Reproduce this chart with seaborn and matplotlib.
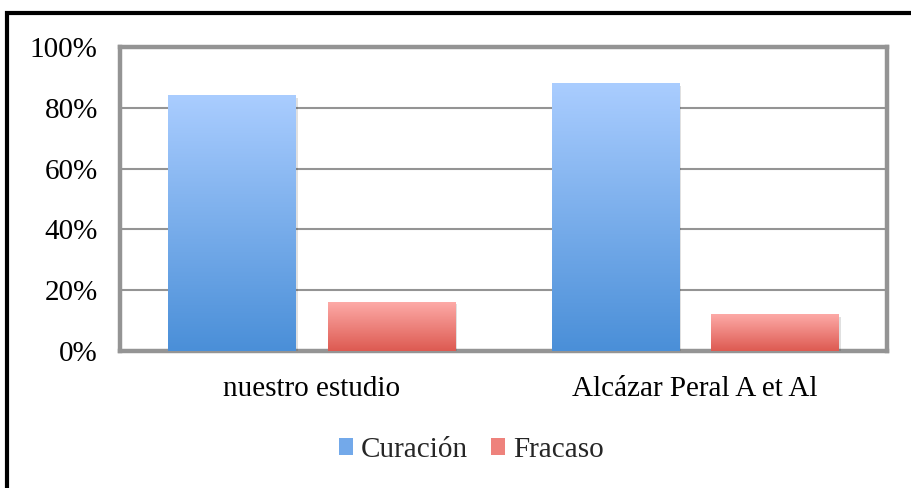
import numpy as np
import pandas as pd
import matplotlib
matplotlib.use("Agg")
import matplotlib.pyplot as plt
import matplotlib.patheffects as pe
from matplotlib.patches import Rectangle
from matplotlib.ticker import FuncFormatter
from matplotlib.colors import LinearSegmentedColormap
import seaborn as sns

categories = ["nuestro estudio", "Alcázar Peral A et Al"]
series = ["Curación", "Fracaso"]
curacion = [84, 88]
fracaso = [16, 12]
yticks = [0, 20, 40, 60, 80, 100]

df = pd.DataFrame({
    "estudio": categories * 2,
    "serie": [series[0]] * 2 + [series[1]] * 2,
    "valor": curacion + fracaso,
})

sns.set_style("white")
plt.rcParams["font.family"] = ["Liberation Serif", "DejaVu Serif"]

W, H = 911, 488
fig = plt.figure(figsize=(W / 100, H / 100), dpi=100)
ax = fig.add_axes([120 / W, 1 - 351 / H, 767 / W, 304 / H])

mid_cols = {"Curación": "#73A9EA", "Fracaso": "#EE827C"}
grads = {"Curación": ("#AACDFF", "#4A8FD8"), "Fracaso": ("#FDAAA7", "#DD5A51")}

sns.barplot(data=df, x="estudio", y="valor", hue="serie", order=categories,
            hue_order=series, palette=mid_cols, width=0.832, gap=0.2,
            ax=ax, legend=False, zorder=3)

ax.set_ylim(0, 100)
ax.set_xlim(-0.5, 1.5)
ax.set_yticks(yticks)
ax.yaxis.set_major_formatter(FuncFormatter(lambda v, p: f"{v:.0f}%"))
ax.set_xlabel("")
ax.set_ylabel("")
gray = "#949494"
for s in ax.spines.values():
    s.set_color(gray)
    s.set_linewidth(3.2)
    s.set_visible(True)
ax.grid(axis="y", color=gray, linewidth=1.5, zorder=0)
ax.set_axisbelow(True)
ax.tick_params(axis="both", length=0, labelsize=21, colors="black")
ax.tick_params(axis="y", pad=16)
ax.tick_params(axis="x", pad=18)

# gradient fills clipped to each bar
bars = [p for p in ax.patches if isinstance(p, Rectangle) and p.get_height() > 0]
for p in bars:
    fc = p.get_facecolor()
    key = "Curación" if fc[2] > fc[0] else "Fracaso"
    top, bot = grads[key]
    cmap = LinearSegmentedColormap.from_list("g", [bot, top])
    x0, y0 = p.get_x(), p.get_y()
    w, h = p.get_width(), p.get_height()
    grad = np.linspace(0, 1, 256).reshape(-1, 1)
    ax.imshow(grad, extent=[x0, x0 + w, y0, y0 + h], origin="lower",
              aspect="auto", cmap=cmap, zorder=4, clip_path=p,
              interpolation="bicubic")
    p.set_path_effects([pe.SimplePatchShadow(offset=(1.5, -1.5), shadow_rgbFace="#000000", alpha=0.12),
                        pe.Normal()])
    p.set_edgecolor("none")

ax.set_xlim(-0.5, 1.5)
ax.set_ylim(0, 100)

# legend
handles = [Rectangle((0, 0), 1, 1, facecolor=mid_cols[s], edgecolor="none") for s in series]
fig.legend(handles, series, loc="center", bbox_to_anchor=(471 / W, 1 - 450 / H),
           ncol=2, frameon=False, fontsize=21, handlelength=0.5, handleheight=0.5,
           handletextpad=0.25, columnspacing=0.8)

# outer black frame
fig.add_artist(Rectangle((7 / W, -0.1), 2, 1 - 13 / H + 0.1, transform=fig.transFigure,
                         fill=False, edgecolor="black", linewidth=3))

fig.savefig("out.png", dpi=100)
